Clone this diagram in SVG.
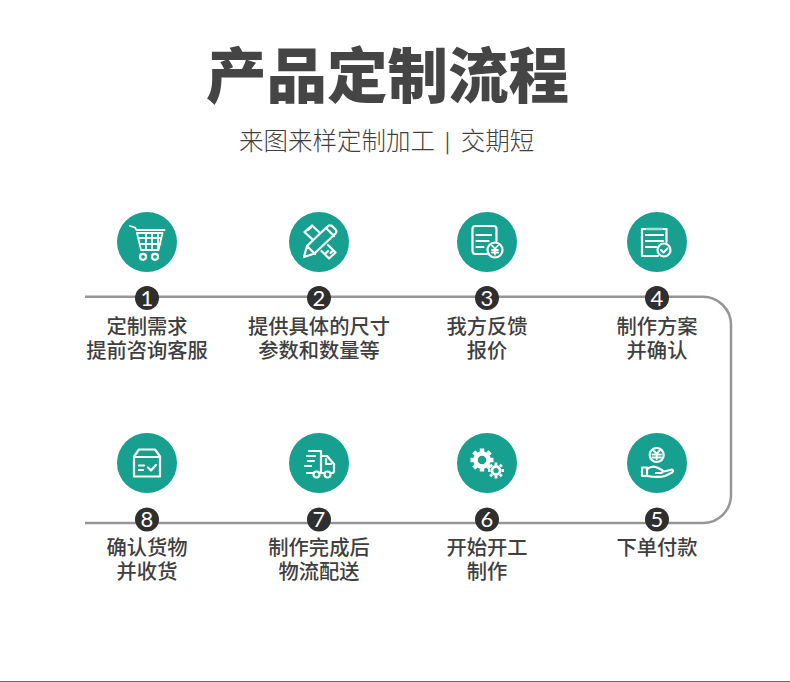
<svg xmlns="http://www.w3.org/2000/svg" width="790" height="682" viewBox="0 0 790 682">
<style>
.t{font-family:"Noto Sans CJK SC","Noto Sans",sans-serif;fill:#3f3f3f;text-anchor:middle}
.title{font-size:60.500px;font-weight:900;fill:#454545}
.sub{font-size:24.500px;font-weight:300}
.bar{font-size:20px;font-weight:400}
.lb{font-size:20.300px;font-weight:500}
.n{font-family:Lato,"Liberation Sans",sans-serif;font-size:22px;fill:#fff;text-anchor:middle}
.bg{fill:#17a08f}
.dot{fill:#2f2f2f}
.i{fill:none;stroke:#fff;stroke-width:2.200;stroke-linecap:round;stroke-linejoin:round}
.i1{fill:none;stroke:#fff;stroke-width:1.800;stroke-linecap:round;stroke-linejoin:round}
</style>
<rect width="790" height="682" fill="#fff"/>
<rect x="0" y="681" width="790" height="1" fill="#1f8a74"/>
<text class="t title" x="387.500" y="97.500">产品定制流程</text>
<text class="t sub" y="150"><tspan x="337">来图来样定制加工</tspan><tspan class="bar" x="447.500" y="149">|</tspan><tspan x="497.500" y="150">交期短</tspan></text>
<g id="connectors"><path d="M85 296.800H703A28 28 0 0 1 731 324.800V495A28 28 0 0 1 703 523H85" fill="none" stroke="#969696" stroke-width="2.500"/></g>
<g id="node1"><circle class="bg" cx="147" cy="242" r="30"/>
<g class="i1"><path d="M130 226l5 1.500 1.500 2.500h28M137 233h25.500l-4 17H141zM138.500 238h23M140 244h20.500M146 233v17M152 233v17M158 233v17"/><circle cx="143" cy="256.800" r="3" stroke-width="2.200"/><circle cx="155" cy="256.800" r="3" stroke-width="2.200"/></g>
<circle class="dot" cx="147" cy="298" r="12"/><text class="n" x="147" y="305.500">1</text>
<text class="t lb"><tspan x="147" y="334">定制需求</tspan><tspan x="147" y="358">提前咨询客服</tspan></text></g>
<g id="node2"><circle class="bg" cx="319" cy="242" r="30"/>
<g class="i"><path d="M304 257l3-11 21-20a3.500 3.500 0 0 1 4 0l3.500 3.500a3 3 0 0 1 0 4l-21 20zM307 246l8 8M326 228l8 8"/><path d="M313 240l-8.500-8 7.500-6.500 8 7.500M308 230l3-2.500M328 245l7.500 7.500-6.500 6-7.500-7.500M330.500 253l2-2M326 253l2-2"/></g>
<circle class="dot" cx="319" cy="298" r="12"/><text class="n" x="319" y="305.500">2</text>
<text class="t lb"><tspan x="319" y="334">提供具体的尺寸</tspan><tspan x="319" y="358">参数和数量等</tspan></text></g>
<g id="node3"><circle class="bg" cx="487" cy="242" r="30"/>
<g class="i"><path d="M487 254h-11.500a3 3 0 0 1-3-3v-22a3 3 0 0 1 3-3h18a3 3 0 0 1 3 3v12M476.500 235h14.500M476.500 241h12M476.500 247h7"/><circle cx="495" cy="250" r="7.500"/></g>
<path class="i1" d="M492 245.500l3 3.500 3-3.500M495 249v5.500M492 250h6M492 252.500h6"/>
<circle class="dot" cx="487" cy="298" r="12"/><text class="n" x="487" y="305.500">3</text>
<text class="t lb"><tspan x="487" y="334">我方反馈</tspan><tspan x="487" y="358">报价</tspan></text></g>
<g id="node4"><circle class="bg" cx="657" cy="242" r="30"/>
<g class="i"><path d="M646 229h-4v27h16M666.500 242v-13h-4"/><path d="M647 229h15" stroke="#a8ddd5" stroke-width="2.500"/><path d="M646 235h17M646 241h17M646 247h10"/><circle cx="664" cy="250" r="6.500"/></g>
<path class="i1" d="M661 250l2.500 2.500 4-4"/>
<circle class="dot" cx="657" cy="298" r="12"/><text class="n" x="657" y="305.500">4</text>
<text class="t lb"><tspan x="657" y="334">制作方案</tspan><tspan x="657" y="358">并确认</tspan></text></g>
<g id="node5"><circle class="bg" cx="657" cy="463" r="30"/>
<g class="i"><circle cx="656.700" cy="455" r="7"/><path d="M642 467.500h5v8.500h-5zM647 469c4-3 8-3 11-1l4 2c2 1 1 3-1 3h-5M662 472l8-2c3-1 4 1 2 2.500l-7 3.500c-5 1.500-12 1-18 0"/></g>
<path class="i1" d="M653.500 450.500l3.200 3 3.200-3M652.500 454.500h8.500M652.500 457.500h8.500M656.700 453.500v6"/>
<circle class="dot" cx="657" cy="519.500" r="12"/><text class="n" x="657" y="527">5</text>
<text class="t lb"><tspan x="657" y="555">下单付款</tspan></text></g>
<g id="node6"><circle class="bg" cx="487" cy="463" r="30"/>
<circle cx="482" cy="460" r="6.500" fill="none" stroke="#fff" stroke-width="4.500"/>
<path stroke="#fff" stroke-width="4.500" d="M482 452v-3.500M482 468v3.500M474 460h-3.500M490 460h3.500M476.300 454.300l-2.500-2.500M487.700 465.700l2.500 2.500M487.700 454.300l2.500-2.500M476.300 465.700l-2.500 2.500"/>
<circle cx="496" cy="470.500" r="4" fill="none" stroke="#fff" stroke-width="2.800"/>
<path stroke="#fff" stroke-width="2.800" d="M496 465v-2.500M496 476v2.500M490.500 470.500h-2.500M501.500 470.500h2.500M492 466.500l-1.800-1.800M500 474.500l1.800 1.800M500 466.500l1.800-1.800M492 474.500l-1.800 1.800"/>
<circle class="dot" cx="487" cy="519.500" r="12"/><text class="n" x="487" y="527">6</text>
<text class="t lb"><tspan x="487" y="555">开始开工</tspan><tspan x="487" y="579">制作</tspan></text></g>
<g id="node7"><circle class="bg" cx="319" cy="463" r="30"/>
<g class="i"><path d="M309 451h12v22h-1M313 473h-6M321 456h6l7 8v7a2 2 0 0 1-2 2h-1M322 473h3M307 456h8M308 461h6M305 466h6M326 459v5h5"/><circle cx="316.500" cy="474.500" r="3"/><circle cx="327.500" cy="474.500" r="3"/></g>
<circle class="dot" cx="319" cy="519.500" r="12"/><text class="n" x="319" y="527">7</text>
<text class="t lb"><tspan x="319" y="555">制作完成后</tspan><tspan x="319" y="579">物流配送</tspan></text></g>
<g id="node8"><circle class="bg" cx="147" cy="463" r="30"/>
<g class="i"><path d="M134 476.500v-20l5-7h16l5 7v20zM134 457h26"/><path d="M139 465.500h5M139 470h4M148 467.500l3 3 5-5.500"/></g>
<circle class="dot" cx="147" cy="519.500" r="12"/><text class="n" x="147" y="527">8</text>
<text class="t lb"><tspan x="147" y="555">确认货物</tspan><tspan x="147" y="579">并收货</tspan></text></g>
</svg>
